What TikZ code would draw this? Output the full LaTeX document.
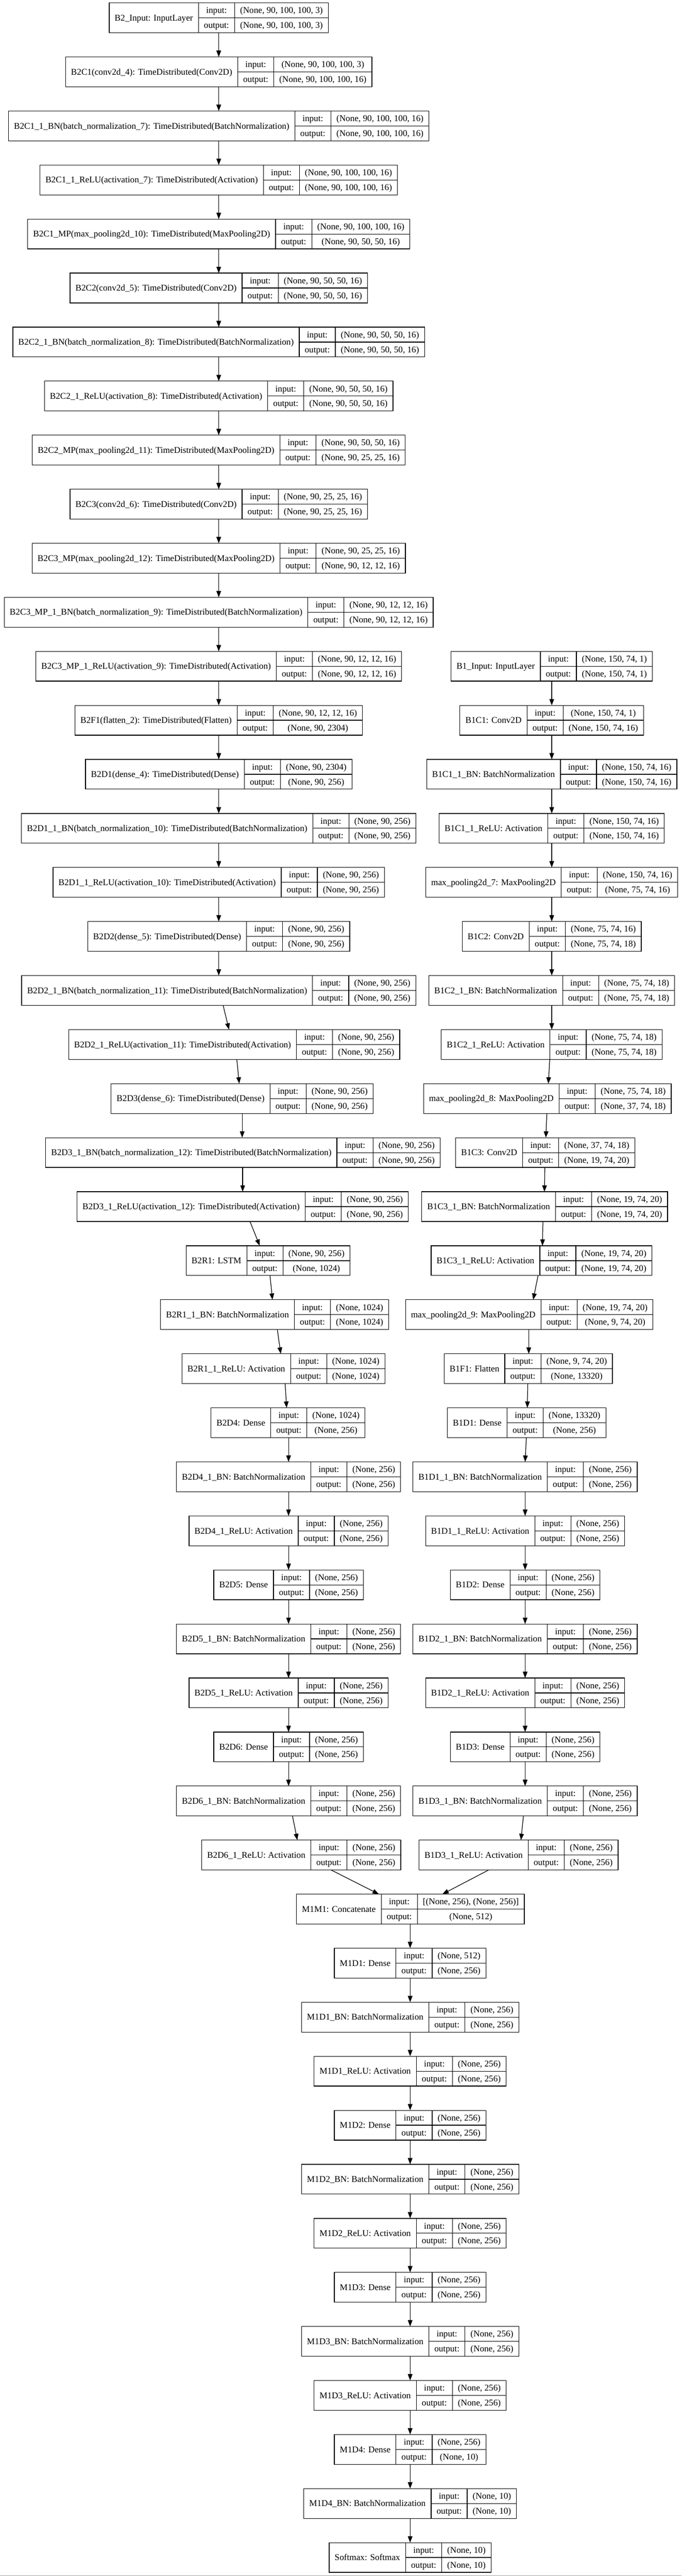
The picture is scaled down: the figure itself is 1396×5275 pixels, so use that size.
\documentclass[tikz,border=0pt]{standalone}
\usepackage{fontspec}
\setmainfont{Liberation Serif}
\usetikzlibrary{arrows.meta}
\newlength\LWa \newlength\LWb \newlength\LWc \newlength\LWd
\newsavebox\measbox
\newcommand\reclfont{\fontsize{18.15}{22}\selectfont}
\newcommand\measure[2]{\pgfinterruptpicture\global\setbox\measbox\hbox{\reclfont #2}\global#1=\wd\measbox\endpgfinterruptpicture}
\tikzset{
  recbox/.style={draw=black, line width=1.3pt, inner sep=0pt, outer sep=0pt, minimum height=61pt},
  recline/.style={draw=black, line width=1.3pt},
  rectext/.style={inner sep=0pt, outer sep=0pt, anchor=base, font=\reclfont, text=black},
  conn/.style={draw=black, line width=1.3pt, -{Triangle[length=13pt,width=9.5pt]}},
}
% #1 node name, #2 x centre, #3 rank, #4 label, #5 input shape, #6 output shape
\newcommand\layer[6]{%
  \measure\LWa{#4}\measure\LWb{output:}\measure\LWc{#5}\measure\LWd{#6}%
  \ifdim\LWd>\LWc \global\LWc=\LWd\fi
  \begingroup
  \pgfmathsetmacro\Wone{\LWa+22.5}%
  \pgfmathsetmacro\Wtwo{\LWb+22.5}%
  \pgfmathsetmacro\Wthree{\LWc+22.5}%
  \pgfmathsetmacro\Wtot{\Wone+\Wtwo+\Wthree}%
  \pgfmathsetmacro\xL{#2-\Wtot/2}%
  \pgfmathsetmacro\xA{\xL+\Wone}%
  \pgfmathsetmacro\xB{\xA+\Wtwo}%
  \pgfmathsetmacro\xR{\xL+\Wtot}%
  \pgfmathsetmacro\yT{-6-110.65*#3}%
  \pgfmathsetmacro\yC{\yT-30.5}%
  \pgfmathsetmacro\yB{\yT-61}%
  \pgfmathsetmacro\xN{(\xL+\xA)/2}%
  \pgfmathsetmacro\xI{(\xA+\xB)/2}%
  \pgfmathsetmacro\xS{(\xB+\xR)/2}%
  \pgfmathsetmacro\bN{\yC-6}%
  \pgfmathsetmacro\bI{\yT-15.25-6}%
  \pgfmathsetmacro\bO{\yC-15.25-6}%
  \node[recbox, minimum width=\Wtot pt] (#1) at (#2,\yC) {};
  \draw[recline] (\xA,\yT) -- (\xA,\yB) (\xB,\yT) -- (\xB,\yB) (\xA,\yC) -- (\xR,\yC);
  \node[rectext] at (\xN,\bN) {#4};
  \node[rectext] at (\xI,\bI) {input:};
  \node[rectext] at (\xI,\bO) {output:};
  \node[rectext] at (\xS,\bI) {#5};
  \node[rectext] at (\xS,\bO) {#6};
  \endgroup
}
\newcommand\edgeline[4]{\draw[conn] (#3,0 |- #1.south) -- (#4,0 |- #2.north);}
\begin{document}
\begin{tikzpicture}[x=1pt,y=1pt]
\fill[white] (0,0) rectangle (1396,-5275);
\useasboundingbox (0,0) rectangle (1396,-5275);
% ---- B2 branch
\layer{L0}{448}{0}{B2\_Input: InputLayer}{(None, 90, 100, 100, 3)}{(None, 90, 100, 100, 3)}
\layer{L1}{448}{1}{B2C1(conv2d\_4): TimeDistributed(Conv2D)}{(None, 90, 100, 100, 3)}{(None, 90, 100, 100, 16)}
\layer{L2}{448}{2}{B2C1\_1\_BN(batch\_normalization\_7): TimeDistributed(BatchNormalization)}{(None, 90, 100, 100, 16)}{(None, 90, 100, 100, 16)}
\layer{L3}{448}{3}{B2C1\_1\_ReLU(activation\_7): TimeDistributed(Activation)}{(None, 90, 100, 100, 16)}{(None, 90, 100, 100, 16)}
\layer{L4}{448}{4}{B2C1\_MP(max\_pooling2d\_10): TimeDistributed(MaxPooling2D)}{(None, 90, 100, 100, 16)}{(None, 90, 50, 50, 16)}
\layer{L5}{448}{5}{B2C2(conv2d\_5): TimeDistributed(Conv2D)}{(None, 90, 50, 50, 16)}{(None, 90, 50, 50, 16)}
\layer{L6}{448}{6}{B2C2\_1\_BN(batch\_normalization\_8): TimeDistributed(BatchNormalization)}{(None, 90, 50, 50, 16)}{(None, 90, 50, 50, 16)}
\layer{L7}{448}{7}{B2C2\_1\_ReLU(activation\_8): TimeDistributed(Activation)}{(None, 90, 50, 50, 16)}{(None, 90, 50, 50, 16)}
\layer{L8}{448}{8}{B2C2\_MP(max\_pooling2d\_11): TimeDistributed(MaxPooling2D)}{(None, 90, 50, 50, 16)}{(None, 90, 25, 25, 16)}
\layer{L9}{448}{9}{B2C3(conv2d\_6): TimeDistributed(Conv2D)}{(None, 90, 25, 25, 16)}{(None, 90, 25, 25, 16)}
\layer{L10}{448}{10}{B2C3\_MP(max\_pooling2d\_12): TimeDistributed(MaxPooling2D)}{(None, 90, 25, 25, 16)}{(None, 90, 12, 12, 16)}
\layer{L11}{448}{11}{B2C3\_MP\_1\_BN(batch\_normalization\_9): TimeDistributed(BatchNormalization)}{(None, 90, 12, 12, 16)}{(None, 90, 12, 12, 16)}
\layer{L12}{448}{12}{B2C3\_MP\_1\_ReLU(activation\_9): TimeDistributed(Activation)}{(None, 90, 12, 12, 16)}{(None, 90, 12, 12, 16)}
\layer{L13}{448}{13}{B2F1(flatten\_2): TimeDistributed(Flatten)}{(None, 90, 12, 12, 16)}{(None, 90, 2304)}
\layer{L14}{448}{14}{B2D1(dense\_4): TimeDistributed(Dense)}{(None, 90, 2304)}{(None, 90, 256)}
\layer{L15}{448}{15}{B2D1\_1\_BN(batch\_normalization\_10): TimeDistributed(BatchNormalization)}{(None, 90, 256)}{(None, 90, 256)}
\layer{L16}{448}{16}{B2D1\_1\_ReLU(activation\_10): TimeDistributed(Activation)}{(None, 90, 256)}{(None, 90, 256)}
\layer{L17}{448}{17}{B2D2(dense\_5): TimeDistributed(Dense)}{(None, 90, 256)}{(None, 90, 256)}
\layer{L18}{448}{18}{B2D2\_1\_BN(batch\_normalization\_11): TimeDistributed(BatchNormalization)}{(None, 90, 256)}{(None, 90, 256)}
\layer{L19}{479.5}{19}{B2D2\_1\_ReLU(activation\_11): TimeDistributed(Activation)}{(None, 90, 256)}{(None, 90, 256)}
\layer{L20}{496}{20}{B2D3(dense\_6): TimeDistributed(Dense)}{(None, 90, 256)}{(None, 90, 256)}
\layer{L21}{497.5}{21}{B2D3\_1\_BN(batch\_normalization\_12): TimeDistributed(BatchNormalization)}{(None, 90, 256)}{(None, 90, 256)}
\layer{L22}{497}{22}{B2D3\_1\_ReLU(activation\_12): TimeDistributed(Activation)}{(None, 90, 256)}{(None, 90, 256)}
\layer{L23}{549}{23}{B2R1: LSTM}{(None, 90, 256)}{(None, 1024)}
\layer{L24}{562.5}{24}{B2R1\_1\_BN: BatchNormalization}{(None, 1024)}{(None, 1024)}
\layer{L25}{580.5}{25}{B2R1\_1\_ReLU: Activation}{(None, 1024)}{(None, 1024)}
\layer{L26}{590}{26}{B2D4: Dense}{(None, 1024)}{(None, 256)}
\layer{L27}{591}{27}{B2D4\_1\_BN: BatchNormalization}{(None, 256)}{(None, 256)}
\layer{L28}{591}{28}{B2D4\_1\_ReLU: Activation}{(None, 256)}{(None, 256)}
\layer{L29}{591}{29}{B2D5: Dense}{(None, 256)}{(None, 256)}
\layer{L30}{591}{30}{B2D5\_1\_BN: BatchNormalization}{(None, 256)}{(None, 256)}
\layer{L31}{591}{31}{B2D5\_1\_ReLU: Activation}{(None, 256)}{(None, 256)}
\layer{L32}{591}{32}{B2D6: Dense}{(None, 256)}{(None, 256)}
\layer{L33}{591}{33}{B2D6\_1\_BN: BatchNormalization}{(None, 256)}{(None, 256)}
\layer{L34}{617}{34}{B2D6\_1\_ReLU: Activation}{(None, 256)}{(None, 256)}
% ---- B1 branch
\layer{R12}{1130}{12}{B1\_Input: InputLayer}{(None, 150, 74, 1)}{(None, 150, 74, 1)}
\layer{R13}{1130}{13}{B1C1: Conv2D}{(None, 150, 74, 1)}{(None, 150, 74, 16)}
\layer{R14}{1130}{14}{B1C1\_1\_BN: BatchNormalization}{(None, 150, 74, 16)}{(None, 150, 74, 16)}
\layer{R15}{1130}{15}{B1C1\_1\_ReLU: Activation}{(None, 150, 74, 16)}{(None, 150, 74, 16)}
\layer{R16}{1130}{16}{max\_pooling2d\_7: MaxPooling2D}{(None, 150, 74, 16)}{(None, 75, 74, 16)}
\layer{R17}{1130}{17}{B1C2: Conv2D}{(None, 75, 74, 16)}{(None, 75, 74, 18)}
\layer{R18}{1130}{18}{B1C2\_1\_BN: BatchNormalization}{(None, 75, 74, 18)}{(None, 75, 74, 18)}
\layer{R19}{1130}{19}{B1C2\_1\_ReLU: Activation}{(None, 75, 74, 18)}{(None, 75, 74, 18)}
\layer{R20}{1121}{20}{max\_pooling2d\_8: MaxPooling2D}{(None, 75, 74, 18)}{(None, 37, 74, 18)}
\layer{R21}{1116.5}{21}{B1C3: Conv2D}{(None, 37, 74, 18)}{(None, 19, 74, 20)}
\layer{R22}{1115.5}{22}{B1C3\_1\_BN: BatchNormalization}{(None, 19, 74, 20)}{(None, 19, 74, 20)}
\layer{R23}{1109}{23}{B1C3\_1\_ReLU: Activation}{(None, 19, 74, 20)}{(None, 19, 74, 20)}
\layer{R24}{1084}{24}{max\_pooling2d\_9: MaxPooling2D}{(None, 19, 74, 20)}{(None, 9, 74, 20)}
\layer{R25}{1082}{25}{B1F1: Flatten}{(None, 9, 74, 20)}{(None, 13320)}
\layer{R26}{1078.5}{26}{B1D1: Dense}{(None, 13320)}{(None, 256)}
\layer{R27}{1075.5}{27}{B1D1\_1\_BN: BatchNormalization}{(None, 256)}{(None, 256)}
\layer{R28}{1075.5}{28}{B1D1\_1\_ReLU: Activation}{(None, 256)}{(None, 256)}
\layer{R29}{1075.5}{29}{B1D2: Dense}{(None, 256)}{(None, 256)}
\layer{R30}{1075.5}{30}{B1D2\_1\_BN: BatchNormalization}{(None, 256)}{(None, 256)}
\layer{R31}{1075.5}{31}{B1D2\_1\_ReLU: Activation}{(None, 256)}{(None, 256)}
\layer{R32}{1075.5}{32}{B1D3: Dense}{(None, 256)}{(None, 256)}
\layer{R33}{1075.5}{33}{B1D3\_1\_BN: BatchNormalization}{(None, 256)}{(None, 256)}
\layer{R34}{1062}{34}{B1D3\_1\_ReLU: Activation}{(None, 256)}{(None, 256)}
% ---- merged trunk
\layer{M35}{840.5}{35}{M1M1: Concatenate}{[(None, 256), (None, 256)]}{(None, 512)}
\layer{M36}{840}{36}{M1D1: Dense}{(None, 512)}{(None, 256)}
\layer{M37}{840}{37}{M1D1\_BN: BatchNormalization}{(None, 256)}{(None, 256)}
\layer{M38}{840}{38}{M1D1\_ReLU: Activation}{(None, 256)}{(None, 256)}
\layer{M39}{840}{39}{M1D2: Dense}{(None, 256)}{(None, 256)}
\layer{M40}{840}{40}{M1D2\_BN: BatchNormalization}{(None, 256)}{(None, 256)}
\layer{M41}{840}{41}{M1D2\_ReLU: Activation}{(None, 256)}{(None, 256)}
\layer{M42}{840}{42}{M1D3: Dense}{(None, 256)}{(None, 256)}
\layer{M43}{840}{43}{M1D3\_BN: BatchNormalization}{(None, 256)}{(None, 256)}
\layer{M44}{840}{44}{M1D3\_ReLU: Activation}{(None, 256)}{(None, 256)}
\layer{M45}{840}{45}{M1D4: Dense}{(None, 256)}{(None, 10)}
\layer{M46}{840}{46}{M1D4\_BN: BatchNormalization}{(None, 10)}{(None, 10)}
\layer{M47}{840}{47}{Softmax: Softmax}{(None, 10)}{(None, 10)}
% ---- connectors, B2 branch
\edgeline{L0}{L1}{448}{448}
\edgeline{L1}{L2}{448}{448}
\edgeline{L2}{L3}{448}{448}
\edgeline{L3}{L4}{448}{448}
\edgeline{L4}{L5}{448}{448}
\edgeline{L5}{L6}{448}{448}
\edgeline{L6}{L7}{448}{448}
\edgeline{L7}{L8}{448}{448}
\edgeline{L8}{L9}{448}{448}
\edgeline{L9}{L10}{448}{448}
\edgeline{L10}{L11}{448}{448}
\edgeline{L11}{L12}{448}{448}
\edgeline{L12}{L13}{448}{448}
\edgeline{L13}{L14}{448}{448}
\edgeline{L14}{L15}{448}{448}
\edgeline{L15}{L16}{448}{448}
\edgeline{L16}{L17}{448}{448}
\edgeline{L17}{L18}{448}{448}
\edgeline{L18}{L19}{457}{469}
\edgeline{L19}{L20}{485}{490}
\edgeline{L20}{L21}{496}{496}
\edgeline{L21}{L22}{497}{497}
\edgeline{L22}{L23}{512}{532}
\edgeline{L23}{L24}{553}{558}
\edgeline{L24}{L25}{568}{575}
\edgeline{L25}{L26}{584}{587}
\edgeline{L26}{L27}{591}{591}
\edgeline{L27}{L28}{591}{591}
\edgeline{L28}{L29}{591}{591}
\edgeline{L29}{L30}{591}{591}
\edgeline{L30}{L31}{591}{591}
\edgeline{L31}{L32}{591}{591}
\edgeline{L32}{L33}{591}{591}
\edgeline{L33}{L34}{599}{609}
\edgeline{L34}{M35}{678}{776}
% ---- connectors, B1 branch
\edgeline{R12}{R13}{1130}{1130}
\edgeline{R13}{R14}{1130}{1130}
\edgeline{R14}{R15}{1130}{1130}
\edgeline{R15}{R16}{1130}{1130}
\edgeline{R16}{R17}{1130}{1130}
\edgeline{R17}{R18}{1130}{1130}
\edgeline{R18}{R19}{1130}{1130}
\edgeline{R19}{R20}{1126}{1123}
\edgeline{R20}{R21}{1120}{1118}
\edgeline{R21}{R22}{1116}{1115}
\edgeline{R22}{R23}{1112}{1111}
\edgeline{R23}{R24}{1102}{1092}
\edgeline{R24}{R25}{1083}{1083}
\edgeline{R25}{R26}{1081}{1080}
\edgeline{R26}{R27}{1078}{1075.5}
\edgeline{R27}{R28}{1075.5}{1075.5}
\edgeline{R28}{R29}{1075.5}{1075.5}
\edgeline{R29}{R30}{1075.5}{1075.5}
\edgeline{R30}{R31}{1075.5}{1075.5}
\edgeline{R31}{R32}{1075.5}{1075.5}
\edgeline{R32}{R33}{1075.5}{1075.5}
\edgeline{R33}{R34}{1072}{1067}
\edgeline{R34}{M35}{1001}{906}
% ---- connectors, trunk
\edgeline{M35}{M36}{840}{840}
\edgeline{M36}{M37}{840}{840}
\edgeline{M37}{M38}{840}{840}
\edgeline{M38}{M39}{840}{840}
\edgeline{M39}{M40}{840}{840}
\edgeline{M40}{M41}{840}{840}
\edgeline{M41}{M42}{840}{840}
\edgeline{M42}{M43}{840}{840}
\edgeline{M43}{M44}{840}{840}
\edgeline{M44}{M45}{840}{840}
\edgeline{M45}{M46}{840}{840}
\edgeline{M46}{M47}{840}{840}
% bottom edge line of the image
\draw[gray!70, line width=1pt] (0,-5274.5) -- (1396,-5274.5);
\end{tikzpicture}
\end{document}
